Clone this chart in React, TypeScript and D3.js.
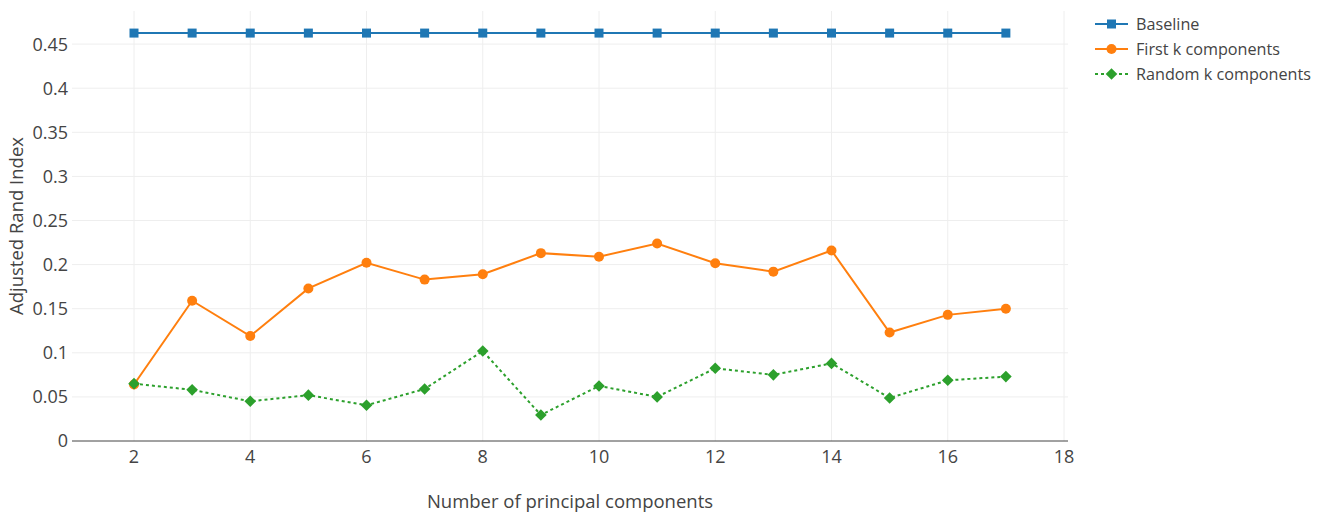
import React from "react";
import * as d3 from "d3";

const components = [2, 3, 4, 5, 6, 7, 8, 9, 10, 11, 12, 13, 14, 15, 16, 17];
const baseline = [0.4625, 0.4625, 0.4625, 0.4625, 0.4625, 0.4625, 0.4625, 0.4625, 0.4625, 0.4625, 0.4625, 0.4625, 0.4625, 0.4625, 0.4625, 0.4625];
const firstK = [0.064, 0.159, 0.119, 0.173, 0.202, 0.183, 0.189, 0.213, 0.209, 0.224, 0.2015, 0.192, 0.216, 0.123, 0.143, 0.150];
const randomK = [0.065, 0.058, 0.045, 0.052, 0.0405, 0.059, 0.102, 0.0295, 0.0624, 0.050, 0.0824, 0.075, 0.088, 0.0488, 0.0688, 0.073];
const xTicks = [2, 4, 6, 8, 10, 12, 14, 16, 18];
const yTicks = [0, 0.05, 0.1, 0.15, 0.2, 0.25, 0.3, 0.35, 0.4, 0.45];
const seriesNames = ["Baseline", "First k components", "Random k components"];
const seriesColors = ["#1f77b4", "#ff7f0e", "#2ca02c"];

const W = 1325, H = 516;
const left = 72, right = 1068, top = 11, bottom = 441;
const FONT = "'Open Sans', sans-serif";

export default function App() {
  const x = d3.scaleLinear().domain([2 - 62 / 58.125, 18 + 4 / 58.125]).range([left, right]);
  const y = d3.scaleLinear().domain([0, 0.45]).range([bottom, bottom - 0.45 * 882]);
  const line = d3.line<[number, number]>().x(d => x(d[0])).y(d => y(d[1]));
  const series = [baseline, firstK, randomK];

  const marker = (i: number, cx: number, cy: number, key: string) => {
    const c = seriesColors[i];
    if (i === 0) return <rect key={key} x={cx - 4.5} y={cy - 4.5} width={9} height={9} fill={c} />;
    if (i === 1) return <circle key={key} cx={cx} cy={cy} r={5} fill={c} />;
    const s = 5.8;
    return <path key={key} d={`M${cx},${cy - s}L${cx + s},${cy}L${cx},${cy + s}L${cx - s},${cy}Z`} fill={c} />;
  };

  return (
    <svg width={W} height={H} style={{ position: "absolute", left: 0, top: 0, background: "#fff" }} fontFamily={FONT}>
      {xTicks.map(t => (
        <line key={"gx" + t} x1={x(t)} x2={x(t)} y1={top} y2={bottom} stroke="#eee" strokeWidth={1} />
      ))}
      {yTicks.filter(t => t > 0).map(t => (
        <line key={"gy" + t} x1={left} x2={right} y1={y(t)} y2={y(t)} stroke="#eee" strokeWidth={1} />
      ))}
      <line x1={left} x2={right} y1={y(0)} y2={y(0)} stroke="#444" strokeWidth={1} />
      {yTicks.map(t => (
        <text key={"ty" + t} x={left - 4} y={y(t)} dy="0.36em" textAnchor="end" fontSize={18} fill="#444">{String(t)}</text>
      ))}
      {xTicks.map(t => (
        <text key={"tx" + t} x={x(t)} y={457} dy="0.36em" textAnchor="middle" fontSize={18} fill="#444">{String(t)}</text>
      ))}
      <text x={(left + right) / 2} y={501} dy="0.36em" textAnchor="middle" fontSize={18.5} fill="#444">Number of principal components</text>
      <text transform={`translate(16,${(top + bottom) / 2}) rotate(-90)`} dy="0.36em" textAnchor="middle" fontSize={18.5} fill="#444">Adjusted Rand Index</text>
      {series.map((vals, i) => {
        const pts = components.map((c, j) => [c, vals[j]] as [number, number]);
        return (
          <g key={"s" + i}>
            <path d={line(pts) || ""} fill="none" stroke={seriesColors[i]} strokeWidth={2} strokeDasharray={i === 2 ? "3,3" : undefined} />
            {pts.map((p, j) => marker(i, x(p[0]), y(p[1]), `m${i}-${j}`))}
          </g>
        );
      })}
      {seriesNames.map((n, i) => {
        const ly = 24 + i * 25;
        return (
          <g key={"l" + i}>
            <line x1={1095} x2={1128} y1={ly} y2={ly} stroke={seriesColors[i]} strokeWidth={2} strokeDasharray={i === 2 ? "3,3" : undefined} />
            {marker(i, 1111.5, ly, "lm" + i)}
            <text x={1136} y={ly} dy="0.36em" fontSize={16.2} fill="#444">{n}</text>
          </g>
        );
      })}
    </svg>
  );
}
